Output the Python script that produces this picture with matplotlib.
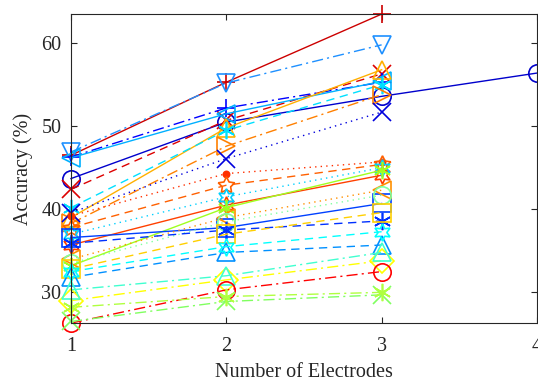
import matplotlib
matplotlib.use("Agg")
import matplotlib.pyplot as plt

plt.rcParams['font.family'] = ['Liberation Serif', 'DejaVu Serif']

x3 = [1, 2, 3]
x4 = [1, 2, 3, 4]

s01 = [46.5, 55.3, 63.5]
s02 = [46.9, 55.2, 59.8]
s03 = [43.7, 50.5, 53.6, 56.4]
s04 = [42.4, 50.7, 56.3]
s05 = [46.3, 52.2, 55.3]
s06 = [46.2, 51.5, 55.4]
s07 = [39.0, 49.8, 56.8]
s08 = [40.2, 49.5, 55.0]
s09 = [38.3, 47.6, 53.8]
s10 = [39.6, 46.1, 51.7]
s11 = [39.2, 44.3, 45.7]
s12 = [37.8, 42.9, 45.4]
s13 = [35.7, 40.5, 44.1]
s14 = [37.0, 41.5, 45.0]
s15 = [33.2, 40.2, 44.7]
s16 = [36.6, 37.8, 40.7]
s17 = [34.0, 39.0, 42.3]
s18 = [33.5, 38.5, 41.7]
s19 = [35.9, 37.5, 38.6]
s20 = [32.8, 37.0, 39.6]
s21 = [31.8, 34.8, 35.7]
s22 = [32.5, 35.5, 37.3]
s23 = [29.0, 31.5, 33.8]
s24 = [30.3, 32.0, 34.8]
s25 = [26.3, 30.3, 32.5]
s26 = [26.5, 28.9, 29.7]
s27 = [28.2, 29.5, 30.0]

AST = (6, 2, 0)     # asterisk
PENT = (5, 1, 0)    # pentagram outline
HEX = (6, 1, 0)     # hexagram outline

series = [
    (x3, s01, '#cc0000', '-', '+'),
    (x3, s02, '#1e90ff', '-.', 'v'),
    (x4, s03, '#0000cc', '-', 'o'),
    (x3, s04, '#dd0000', '--', 'x'),
    (x3, s05, '#0000ff', '-.', '+'),
    (x3, s06, '#00b0ff', '-', '<'),
    (x3, s07, '#ffb000', '-', '^'),
    (x3, s08, '#00e0ff', '--', AST),
    (x3, s09, '#ff8000', '-.', '>'),
    (x3, s10, '#0000dd', ':', 'x'),
    (x3, s11, '#ff3000', ':', '.'),
    (x3, s12, '#ff6000', '--', PENT),
    (x3, s13, '#ff4000', '-', HEX),
    (x3, s14, '#00d0ff', ':', HEX),
    (x3, s15, '#a0ff20', '-', AST),
    (x3, s16, '#0040ff', '-', 's'),
    (x3, s17, '#ff9000', ':', '<'),
    (x3, s18, '#80ffa0', ':', 'o'),
    (x3, s19, '#0030ff', '--', AST),
    (x3, s20, '#ffd000', '--', 's'),
    (x3, s21, '#0090ff', '--', '^'),
    (x3, s22, '#00ffff', '--', HEX),
    (x3, s23, '#ffff00', '-.', 'D'),
    (x3, s24, '#40ffd0', '-.', '^'),
    (x3, s25, '#ff0000', '-.', 'o'),
    (x3, s26, '#80ff60', '-.', 'x'),
    (x3, s27, '#b0ff40', '-.', AST),
]

fig = plt.figure(figsize=(5.38, 3.81), dpi=100)
ax = fig.add_axes([0.132, 0.152, 0.866, 0.811])
for xs, ys, c, ls, mk in series:
    ms = 9 if mk == '.' else 12.5
    filled = mk in ('.', '+', 'x', AST)
    ax.plot(xs, ys, color=c, linestyle=ls, marker=mk, markersize=ms,
            markerfacecolor=c if filled else 'none', markeredgecolor=c,
            markeredgewidth=1.2, linewidth=1.0, clip_on=False,
            dashes=(6, 4) if ls == '--' else ((8, 3, 1.5, 3) if ls == '-.' else ((1, 3) if ls == ':' else (None, None))))

ax.set_xlim(1, 4)
ax.set_ylim(26.3, 63.5)
ax.set_xticks([1, 2, 3, 4])
ax.set_yticks([30, 40, 50, 60])
ax.tick_params(direction='in', top=True, right=True, labelsize=14.5, length=4, width=0.8,
               colors='#262626')
ax.tick_params(axis='x', pad=10)
ax.tick_params(axis='y', pad=7)
for sp in ax.spines.values():
    sp.set_color('#262626')
    sp.set_linewidth(0.8)
ax.set_xlabel('Number of Electrodes', fontsize=14.5, color='#262626', labelpad=5)
ax.set_ylabel('Accuracy (%)', fontsize=14.5, color='#262626', labelpad=6)
fig.savefig('out.png', dpi=100)
